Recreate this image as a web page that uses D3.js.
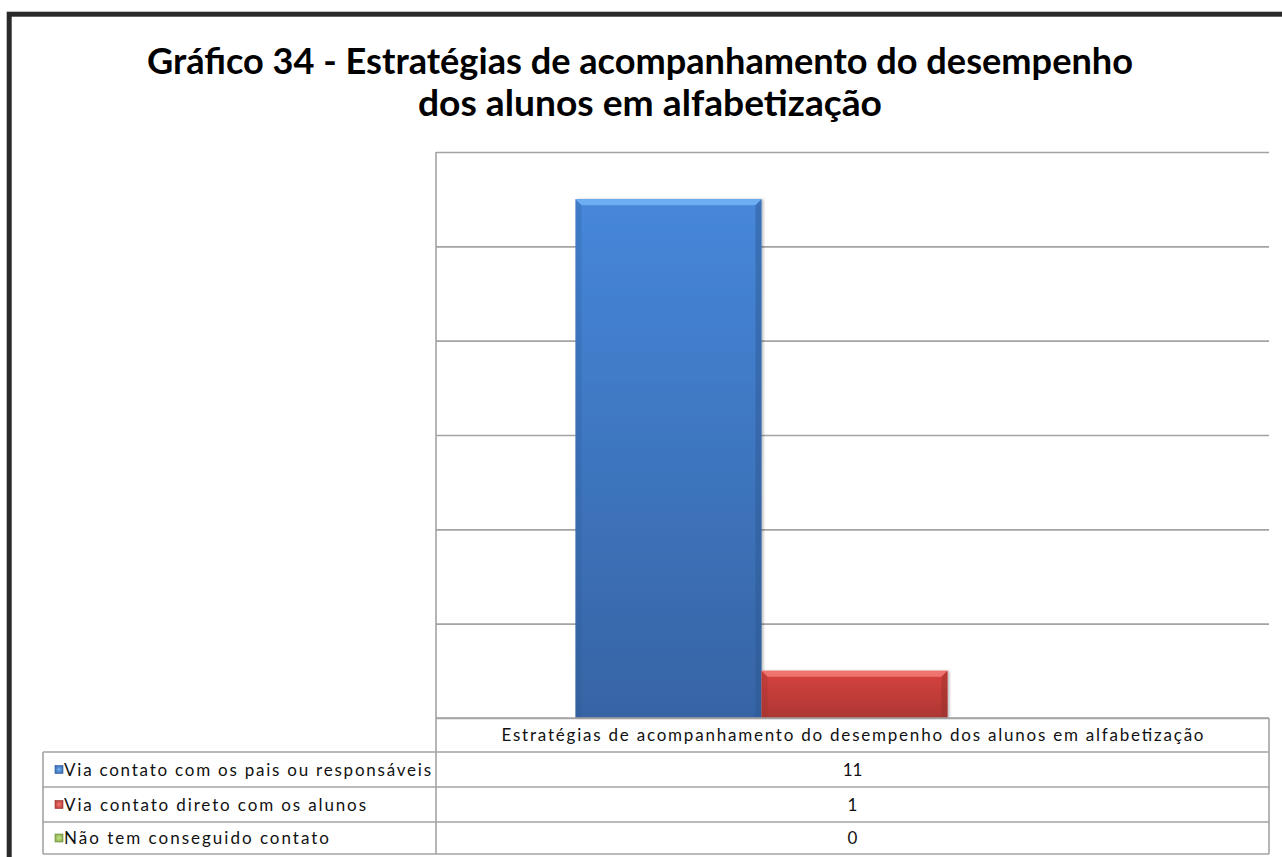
<!DOCTYPE html>
<html>
<head>
<meta charset="utf-8">
<script src="https://cdn.jsdelivr.net/npm/d3@7"></script>
<style>
  html, body { margin: 0; padding: 0; background: #ffffff; }
  svg { display: block; }
</style>
</head>
<body>
<svg id="chart" width="1282" height="857"></svg>
<script>
// ---- data ----
const titleLines = ["Gráfico 34 - Estratégias de acompanhamento do desempenho", "dos alunos em alfabetização"];
const categories = ["Estratégias de acompanhamento do desempenho dos alunos em alfabetização"];
const seriesNames = ["Via contato com os pais ou responsáveis", "Via contato direto com os alunos", "Não tem conseguido contato"];
const seriesValues = [11, 1, 0];
const yTicks = [0, 2, 4, 6, 8, 10, 12];

// ---- layout ----
const W = 1282, H = 857;
const plot = { left: 436, right: 1269, top: 152, bottom: 718 };
const table = { left: 43, rowTops: [752, 787, 822], bottom: 854, headerTop: 718 };
const colors = [
  { top: "#4687da", bottom: "#3664a4", hi: "#74b4f4", dark: "#2d578f", key: "#3d72b8" },
  { top: "#d7433f", bottom: "#ad3633", hi: "#f37b77", dark: "#93302d", key: "#c0413d" },
  { top: "#9bc257", bottom: "#779a3e", hi: "#c6e58c", dark: "#66853a", key: "#8db34e" }
];
const gridColor = "#a3a3a3";
const font = "Lato, 'Open Sans', sans-serif";

const svg = d3.select("#chart");
const defs = svg.append("defs");

colors.forEach((c, i) => {
  const g = defs.append("linearGradient").attr("id", "grad" + i)
    .attr("x1", 0).attr("y1", 0).attr("x2", 0).attr("y2", 1);
  g.append("stop").attr("offset", "0%").attr("stop-color", c.top);
  g.append("stop").attr("offset", "100%").attr("stop-color", c.bottom);
  const k = defs.append("radialGradient").attr("id", "key" + i);
  k.append("stop").attr("offset", "0%").attr("stop-color", c.hi);
  k.append("stop").attr("offset", "100%").attr("stop-color", c.key);
});
const f = defs.append("filter").attr("id", "shadow").attr("x", "-10%").attr("y", "-10%").attr("width", "130%").attr("height", "130%");
f.append("feDropShadow").attr("dx", 2).attr("dy", 0).attr("stdDeviation", 1.2)
  .attr("flood-color", "#000").attr("flood-opacity", 0.25);

// background + frame
svg.append("rect").attr("width", W).attr("height", H).attr("fill", "#fff");
svg.append("rect").attr("x", 9.2).attr("y", 14.2).attr("width", W + 20).attr("height", H + 20)
  .attr("fill", "none").attr("stroke", "#2a2a2a").attr("stroke-width", 5);

// title
const titleY = [74, 116];
const titleLens = [986, 464];
const titleX = [640, 650];
svg.append("g").selectAll("text").data(titleLines).join("text")
  .attr("x", (d, i) => titleX[i])
  .attr("y", (d, i) => titleY[i])
  .attr("text-anchor", "middle")
  .attr("font-family", font).attr("font-weight", "bold").attr("font-size", 36)
  .attr("textLength", (d, i) => titleLens[i]).attr("lengthAdjust", "spacingAndGlyphs")
  .attr("fill", "#000")
  .text(d => d);

// scales
const y = d3.scaleLinear().domain([0, 12]).range([plot.bottom, plot.top]);
const x0 = d3.scaleBand().domain(categories).range([plot.left, plot.right]).padding(0);
const gapFrac = 0.33;
const x1 = d3.scaleBand().domain(seriesNames)
  .range([x0.bandwidth() * gapFrac / 2 + 2, x0.bandwidth() * (1 - gapFrac / 2) + 2]).padding(0);

// gridlines via axis
const grid = svg.append("g").attr("transform", `translate(${plot.left},0)`)
  .call(d3.axisLeft(y).tickValues(yTicks).tickSize(-(plot.right - plot.left)).tickFormat(""));
grid.select(".domain").remove();
grid.selectAll(".tick line").attr("stroke", gridColor).attr("stroke-width", 1.6);

// left axis line (runs through the table)
svg.append("line").attr("x1", plot.left).attr("x2", plot.left)
  .attr("y1", plot.top).attr("y2", table.bottom)
  .attr("stroke", gridColor).attr("stroke-width", 1.6);

// bars
const bars = svg.append("g").selectAll("g").data(seriesNames).join("g");
bars.each(function (name, i) {
  const v = seriesValues[i];
  if (v <= 0) return;
  const g = d3.select(this);
  const bx = x0(categories[0]) + x1(name);
  const bw = x1.bandwidth();
  const by = y(v);
  const bh = y(0) - y(v);
  const b = Math.min(6, bh / 3);
  const c = colors[i];
  g.append("rect").attr("x", bx).attr("y", by).attr("width", bw).attr("height", bh)
    .attr("fill", `url(#grad${i})`).attr("filter", "url(#shadow)");
  g.append("polygon").attr("points", [[bx, by], [bx + bw, by], [bx + bw - b, by + b], [bx + b, by + b]].join(" "))
    .attr("fill", c.hi).attr("opacity", 0.85);
  g.append("polygon").attr("points", [[bx + bw, by], [bx + bw, by + bh], [bx + bw - b, by + bh], [bx + bw - b, by + b]].join(" "))
    .attr("fill", c.dark).attr("opacity", 0.45);
  g.append("polygon").attr("points", [[bx, by], [bx + b, by + b], [bx + b, by + bh], [bx, by + bh]].join(" "))
    .attr("fill", c.dark).attr("opacity", 0.25);
});

// data table
const tg = svg.append("g");
const line = (x1_, y1_, x2_, y2_) => tg.append("line")
  .attr("x1", x1_).attr("y1", y1_).attr("x2", x2_).attr("y2", y2_)
  .attr("stroke", gridColor).attr("stroke-width", 1.6);
line(plot.left, table.headerTop, plot.right, table.headerTop);
line(plot.right, table.headerTop, plot.right, table.bottom);
table.rowTops.forEach(t => line(table.left, t, plot.right, t));
line(table.left, table.bottom, plot.right, table.bottom);
line(table.left, table.rowTops[0], table.left, table.bottom);

const fs = 17;
const cx = x0(categories[0]) + x0.bandwidth() / 2;
tg.append("text").attr("x", cx).attr("y", (table.headerTop + table.rowTops[0]) / 2 + 6)
  .attr("text-anchor", "middle").attr("font-family", font).attr("font-size", fs)
  .attr("fill", "#111").attr("textLength", 702).attr("lengthAdjust", "spacing")
  .text(categories[0]);

const rowBottoms = table.rowTops.slice(1).concat([table.bottom]);
const labelLens = [367, 302, 265];
seriesNames.forEach((name, i) => {
  const mid = (table.rowTops[i] + rowBottoms[i]) / 2;
  tg.append("rect").attr("x", 55).attr("y", mid - 4).attr("width", 8).attr("height", 8)
    .attr("fill", `url(#key${i})`).attr("stroke", colors[i].dark).attr("stroke-width", 0.6);
  tg.append("text").attr("x", 64).attr("y", mid + 6)
    .attr("font-family", font).attr("font-size", fs).attr("fill", "#111")
    .attr("textLength", labelLens[i]).attr("lengthAdjust", "spacing")
    .text(name);
  tg.append("text").attr("x", cx).attr("y", mid + 6).attr("text-anchor", "middle")
    .attr("font-family", font).attr("font-size", fs).attr("fill", "#111")
    .text(seriesValues[i]);
});
</script>
</body>
</html>
